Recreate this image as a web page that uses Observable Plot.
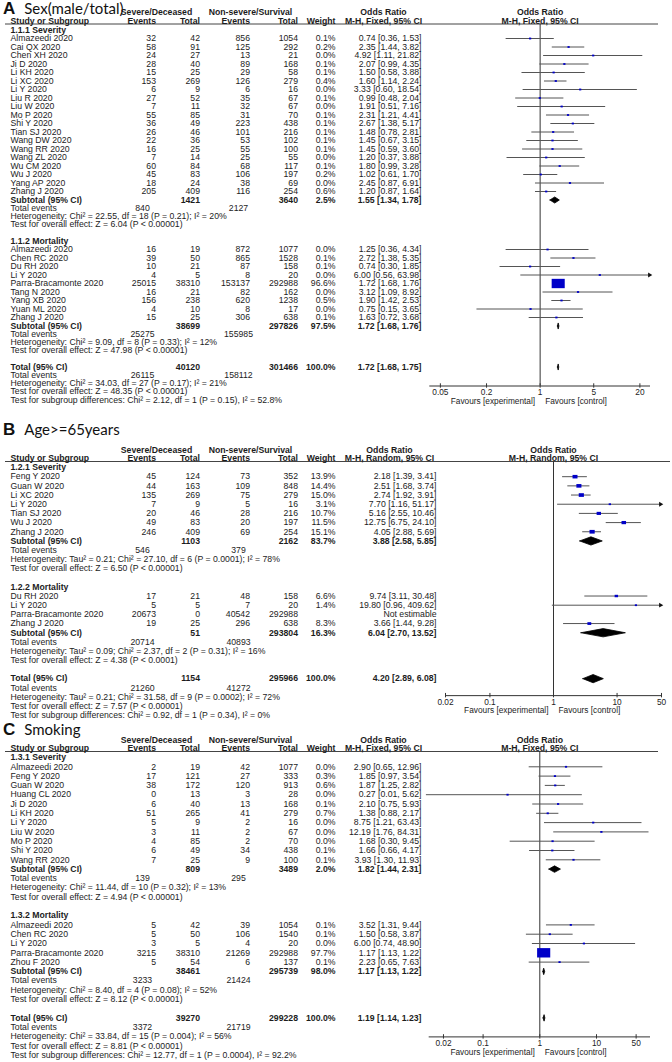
<!DOCTYPE html>
<html><head><meta charset="utf-8">
<script src="https://cdn.jsdelivr.net/npm/d3@7"></script>
<script src="https://cdn.jsdelivr.net/npm/@observablehq/plot@0.6"></script>
<style>
body{margin:0;background:#fff;}
#page{position:relative;width:672px;height:1062px;overflow:hidden;background:#fff;}
#page svg{position:absolute;left:0;}
.ttl{position:absolute;left:3px;white-space:nowrap;color:#111;z-index:2;line-height:14px;height:14px;}
.ttl b{font:bold 17px "Liberation Sans",Arial,sans-serif;}
.ttl span{font:15px Lato,"Open Sans",sans-serif;margin-left:9px;}
</style></head><body><div id="page"></div>
<script>
// ---------- DATA ----------
// study rows: [name, severe events, severe total, non-severe events, non-severe total, weight %, OR, lower, upper]
// Panel A: Sex (male/total)
const aSeverity = [
  ["Almazeedi 2020",32,42,856,1054,0.1,0.74,0.36,1.53],
  ["Cai QX 2020",58,91,125,292,0.2,2.35,1.44,3.82],
  ["Chen XH 2020",24,27,13,21,0.0,4.92,1.11,21.82],
  ["Ji D 2020",28,40,89,168,0.1,2.07,0.99,4.35],
  ["Li KH 2020",15,25,29,58,0.1,1.50,0.58,3.88],
  ["Li XC 2020",153,269,126,279,0.4,1.60,1.14,2.24],
  ["Li Y 2020",6,9,6,16,0.0,3.33,0.60,18.54],
  ["Liu R 2020",27,52,35,67,0.1,0.99,0.48,2.04],
  ["Liu W 2020",7,11,32,67,0.0,1.91,0.51,7.16],
  ["Mo P 2020",55,85,31,70,0.1,2.31,1.21,4.41],
  ["Shi Y 2020",36,49,223,438,0.1,2.67,1.38,5.17],
  ["Tian SJ 2020",26,46,101,216,0.1,1.48,0.78,2.81],
  ["Wang DW 2020",22,36,53,102,0.1,1.45,0.67,3.15],
  ["Wang RR 2020",16,25,55,100,0.1,1.45,0.59,3.60],
  ["Wang ZL 2020",7,14,25,55,0.0,1.20,0.37,3.88],
  ["Wu CM 2020",60,84,68,117,0.1,1.80,0.99,3.28],
  ["Wu J 2020",45,83,106,197,0.2,1.02,0.61,1.70],
  ["Yang AP 2020",18,24,38,69,0.0,2.45,0.87,6.91],
  ["Zhang J 2020",205,409,116,254,0.6,1.20,0.87,1.64]
];
const aSeveritySub = [1421,3640,2.5,1.55,1.34,1.78];
const aSeverityEvents = [840,2127];
const aSeverityHet = "Heterogeneity: Chi² = 22.55, df = 18 (P = 0.21); I² = 20%";
const aSeverityTest = "Test for overall effect: Z = 6.04 (P < 0.00001)";
const aMortality = [
  ["Almazeedi 2020",16,19,872,1077,0.0,1.25,0.36,4.34],
  ["Chen RC 2020",39,50,865,1528,0.1,2.72,1.38,5.35],
  ["Du RH 2020",10,21,87,158,0.1,0.74,0.30,1.85],
  ["Li Y 2020",4,5,8,20,0.0,6.00,0.56,63.98],
  ["Parra-Bracamonte 2020",25015,38310,153137,292988,96.6,1.72,1.68,1.76],
  ["Tang N 2020",16,21,82,162,0.0,3.12,1.09,8.92],
  ["Yang XB 2020",156,238,620,1238,0.5,1.90,1.42,2.53],
  ["Yuan ML 2020",4,10,8,17,0.0,0.75,0.15,3.65],
  ["Zhang J 2020",15,25,306,638,0.1,1.63,0.72,3.68]
];
const aMortalitySub = [38699,297826,97.5,1.72,1.68,1.76];
const aMortalityEvents = [25275,155985];
const aMortalityHet = "Heterogeneity: Chi² = 9.09, df = 8 (P = 0.33); I² = 12%";
const aMortalityTest = "Test for overall effect: Z = 47.98 (P < 0.00001)";
const aTotal = [40120,301466,100.0,1.72,1.68,1.75];
const aTotalEvents = [26115,158112];
const aTotalHet = "Heterogeneity: Chi² = 34.03, df = 27 (P = 0.17); I² = 21%";
const aTotalTest = "Test for overall effect: Z = 48.35 (P < 0.00001)";
const aSubgroupTest = "Test for subgroup differences: Chi² = 2.12, df = 1 (P = 0.15), I² = 52.8%";
const aTicks = [0.05,0.2,1,5,20];

// Panel B: Age >= 65 years
const bSeverity = [
  ["Feng Y 2020",45,124,73,352,13.9,2.18,1.39,3.41],
  ["Guan W 2020",44,163,109,848,14.4,2.51,1.68,3.74],
  ["Li XC 2020",135,269,75,279,15.0,2.74,1.92,3.91],
  ["Li Y 2020",7,9,5,16,3.1,7.70,1.16,51.17],
  ["Tian SJ 2020",20,46,28,216,10.7,5.16,2.55,10.46],
  ["Wu J 2020",49,83,20,197,11.5,12.75,6.75,24.10],
  ["Zhang J 2020",246,409,69,254,15.1,4.05,2.88,5.69]
];
const bSeveritySub = [1103,2162,83.7,3.88,2.58,5.85];
const bSeverityEvents = [546,379];
const bSeverityHet = "Heterogeneity: Tau² = 0.21; Chi² = 27.10, df = 6 (P = 0.0001); I² = 78%";
const bSeverityTest = "Test for overall effect: Z = 6.50 (P < 0.00001)";
const bMortality = [
  ["Du RH 2020",17,21,48,158,6.6,9.74,3.11,30.48],
  ["Li Y 2020",5,5,7,20,1.4,19.80,0.96,409.62],
  ["Parra-Bracamonte 2020",20673,0,40542,292988,null,null,null,null],
  ["Zhang J 2020",19,25,296,638,8.3,3.66,1.44,9.28]
];
const bMortalitySub = [51,293804,16.3,6.04,2.70,13.52];
const bMortalityEvents = [20714,40893];
const bMortalityHet = "Heterogeneity: Tau² = 0.09; Chi² = 2.37, df = 2 (P = 0.31); I² = 16%";
const bMortalityTest = "Test for overall effect: Z = 4.38 (P < 0.0001)";
const bTotal = [1154,295966,100.0,4.20,2.89,6.08];
const bTotalEvents = [21260,41272];
const bTotalHet = "Heterogeneity: Tau² = 0.21; Chi² = 31.58, df = 9 (P = 0.0002); I² = 72%";
const bTotalTest = "Test for overall effect: Z = 7.57 (P < 0.00001)";
const bSubgroupTest = "Test for subgroup differences: Chi² = 0.92, df = 1 (P = 0.34), I² = 0%";
const bTicks = [0.02,0.1,1,10,50];

// Panel C: Smoking
const cSeverity = [
  ["Almazeedi 2020",2,19,42,1077,0.0,2.90,0.65,12.96],
  ["Feng Y 2020",17,121,27,333,0.3,1.85,0.97,3.54],
  ["Guan W 2020",38,172,120,913,0.6,1.87,1.25,2.82],
  ["Huang CL 2020",0,13,3,28,0.0,0.27,0.01,5.62],
  ["Ji D 2020",6,40,13,168,0.1,2.10,0.75,5.93],
  ["Li KH 2020",51,265,41,279,0.7,1.38,0.88,2.17],
  ["Li Y 2020",5,9,2,16,0.0,8.75,1.21,63.43],
  ["Liu W 2020",3,11,2,67,0.0,12.19,1.76,84.31],
  ["Mo P 2020",4,85,2,70,0.0,1.68,0.30,9.45],
  ["Shi Y 2020",6,49,34,438,0.1,1.66,0.66,4.17],
  ["Wang RR 2020",7,25,9,100,0.1,3.93,1.30,11.93]
];
const cSeveritySub = [809,3489,2.0,1.82,1.44,2.31];
const cSeverityEvents = [139,295];
const cSeverityHet = "Heterogeneity: Chi² = 11.44, df = 10 (P = 0.32); I² = 13%";
const cSeverityTest = "Test for overall effect: Z = 4.94 (P < 0.00001)";
const cMortality = [
  ["Almazeedi 2020",5,42,39,1054,0.1,3.52,1.31,9.44],
  ["Chen RC 2020",5,50,106,1540,0.1,1.50,0.58,3.87],
  ["Li Y 2020",3,5,4,20,0.0,6.00,0.74,48.90],
  ["Parra-Bracamonte 2020",3215,38310,21269,292988,97.7,1.17,1.13,1.22],
  ["Zhou F 2020",5,54,6,137,0.1,2.23,0.65,7.63]
];
const cMortalitySub = [38461,295739,98.0,1.17,1.13,1.22];
const cMortalityEvents = [3233,21424];
const cMortalityHet = "Heterogeneity: Chi² = 8.40, df = 4 (P = 0.08); I² = 52%";
const cMortalityTest = "Test for overall effect: Z = 8.12 (P < 0.00001)";
const cTotal = [39270,299228,100.0,1.19,1.14,1.23];
const cTotalEvents = [3372,21719];
const cTotalHet = "Heterogeneity: Chi² = 33.84, df = 15 (P = 0.004); I² = 56%";
const cTotalTest = "Test for overall effect: Z = 8.81 (P < 0.00001)";
const cSubgroupTest = "Test for subgroup differences: Chi² = 12.77, df = 1 (P = 0.0004), I² = 92.2%";
const cTicks = [0.02,0.1,1,10,50];

// ---------- RENDER ----------
const FONT = '"Liberation Sans", Arial, Helvetica, sans-serif';
const FS = 8.7;
const TXT = "#1c1c1c";
const fmtCI = (or, lo, hi) => `${or.toFixed(2)} [${lo.toFixed(2)}, ${hi.toFixed(2)}]`;
const fmtW = w => w.toFixed(1) + "%";

// wide rectangle symbol for study weights
const rectSymbol = {
  draw(ctx, size) {
    const r = Math.sqrt(size / Math.PI);
    const w = Math.max(r, 1.1), h = Math.max(r / 1.4, 0.9);
    ctx.moveTo(-w, -h); ctx.lineTo(w, -h); ctx.lineTo(w, h); ctx.lineTo(-w, h); ctx.closePath();
  }
};

function buildPanel(P) {
  const cells = [], studies = [], diamonds = [];
  const add = (row, bold, obj) => {
    for (const k in obj) {
      const v = obj[k];
      if (v !== null && v !== undefined && v !== "") cells.push({row, col: k, text: String(v), bold});
    }
  };
  const S = P.sumStep / P.step, G = P.gapStep / P.step;
  let r = 0;
  P.groups.forEach((g, gi) => {
    if (gi > 0) r += 2 * G;
    add(r, true, {name: g.label});
    g.rows.forEach(d => {
      r += 1;
      const [name, se, st, ne, nt, w, or, lo, hi] = d;
      add(r, false, {name, se, st, ne, nt, w: w == null ? null : fmtW(w), ci: or == null ? "Not estimable" : fmtCI(or, lo, hi)});
      if (or != null) studies.push({row: r, w, or, lo, hi});
    });
    r += 1;
    const [st, nt, w, or, lo, hi] = g.sub;
    add(r, true, {name: "Subtotal (95% CI)", st, nt, w: fmtW(w), ci: fmtCI(or, lo, hi)});
    diamonds.push({row: r, or, lo, hi});
    r += S; add(r, false, {name: "Total events", te1: g.events[0], te2: g.events[1]});
    r += S; add(r, false, {name: g.het});
    r += S; add(r, false, {name: g.test});
  });
  const T = P.total;
  r += 2 * G;
  const totalRow = r;
  {
    const [st, nt, w, or, lo, hi] = T.sub;
    add(r, true, {name: "Total (95% CI)", st, nt, w: fmtW(w), ci: fmtCI(or, lo, hi)});
    diamonds.push({row: r, or, lo, hi});
  }
  r += S; add(r, false, {name: "Total events", te1: T.events[0], te2: T.events[1]});
  r += S; add(r, false, {name: T.het});
  r += S; add(r, false, {name: T.test});
  r += S; add(r, false, {name: T.sub2});

  const px = v => v / P.step; // px offset -> row units
  const hdr1 = px(-17.5), hdr2 = px(-9), lineRow = px(-6);
  add(hdr1, true, {hSev: "Severe/Deceased", hNs: "Non-severe/Survival", hOR: "Odds Ratio"});
  add(hdr2, true, {name: "Study or Subgroup", se: "Events", st: "Total", ne: "Events", nt: "Total", w: "Weight", hOR: P.method});

  const cols = {
    name: [10, "start"], se: [155.5, "end"], st: [199.5, "end"], ne: [249.5, "end"], nt: [297.5, "end"],
    w: [335, "end"], ci: [P.ciX, "end"], te1: [142, "middle"], te2: [238, "middle"],
    hSev: [156, "middle"], hNs: [250, "middle"], hOR: [P.orHdrX, "middle"]
  };
  const axisRow = totalRow + px(P.axisGap);
  const xmax = P.xDomain[1];

  const marks = [];
  // header rule
  marks.push(Plot.ruleY([lineRow], {y: d => d, insetLeft: 5, insetRight: 672 - P.lineRight, stroke: "#444", strokeWidth: 1}));
  // table text
  for (const col in cols) {
    for (const bold of [false, true]) {
      const data = cells.filter(c => c.col === col && c.bold === bold);
      if (!data.length) continue;
      marks.push(Plot.text(data, {
        y: "row", text: "text", frameAnchor: "left", dx: cols[col][0], textAnchor: cols[col][1],
        fontSize: FS, fontFamily: FONT, fontWeight: bold ? "bold" : "normal", fill: TXT
      }));
    }
  }
  // forest headers
  marks.push(Plot.text([{x: 1, row: hdr1, t: "Odds Ratio"}, {x: 1, row: hdr2, t: P.method}], {
    x: "x", y: "row", text: "t", fontSize: FS, fontFamily: FONT, fontWeight: "bold", fill: TXT
  }));
  // null line
  marks.push(Plot.ruleX([1], {x: d => d, y1: lineRow, y2: axisRow, stroke: "#333", strokeWidth: 1}));
  // CI lines
  marks.push(Plot.ruleY(studies, {y: "row", x1: "lo", x2: d => Math.min(d.hi, xmax), stroke: "#555", strokeWidth: 1}));
  // arrows for CIs beyond the axis
  marks.push(Plot.dot(studies.filter(d => d.hi > xmax), {x: () => xmax, y: "row", symbol: "triangle2", rotate: 90, r: 2.3, fill: "#111", stroke: "none", dx: -1}));
  // weight squares
  marks.push(Plot.dot(studies, {x: "or", y: "row", r: "w", symbol: rectSymbol, fill: "#0000c8", stroke: "none"}));
  // diamonds
  const dpts = [];
  diamonds.forEach((d, i) => {
    const h = P.dHalf;
    dpts.push({id: i, x: d.lo, y: d.row}, {id: i, x: d.or, y: d.row - h}, {id: i, x: d.hi, y: d.row}, {id: i, x: d.or, y: d.row + h}, {id: i, x: d.lo, y: d.row});
  });
  marks.push(Plot.line(dpts, {x: "x", y: "y", z: "id", fill: "#000", stroke: "#000", strokeWidth: 0.8, curve: "linear"}));
  // axis: line, ticks, labels
  marks.push(Plot.ruleY([axisRow], {y: d => d, x1: () => P.xDomain[0], x2: () => P.xDomain[1], stroke: "#333", strokeWidth: 1}));
  marks.push(Plot.ruleX(P.ticks, {x: d => d, y1: axisRow - px(2.2), y2: axisRow + px(2.2), stroke: "#333", strokeWidth: 1}));
  marks.push(Plot.text(P.ticks, {x: d => d, y: () => axisRow + px(6.8), text: d => String(d), fontSize: 8.3, fontFamily: FONT, fill: TXT}));
  marks.push(Plot.text([{x: 1, t: "Favours [experimental]"}], {x: "x", y: () => axisRow + px(15.2), text: "t", textAnchor: "end", dx: -5, fontSize: 8.3, fontFamily: FONT, fill: TXT}));
  marks.push(Plot.text([{x: 1, t: "Favours [control]"}], {x: "x", y: () => axisRow + px(15.2), text: "t", textAnchor: "start", dx: 5, fontSize: 8.3, fontFamily: FONT, fill: TXT}));

  const svg = Plot.plot({
    width: 672, height: P.height,
    marginTop: 0, marginLeft: 0, marginRight: 0, marginBottom: 0,
    x: {type: "log", domain: P.xDomain, range: P.xRange, axis: null},
    y: {type: "linear", domain: [0, 1], range: [P.row0, P.row0 + P.step], axis: null},
    r: {type: "sqrt", domain: [0, 100], range: [0.01, 6.65]},
    style: {background: "transparent", fontFamily: FONT, color: TXT},
    marks
  });
  svg.style.top = P.top + "px";
  return svg;
}

const page = document.getElementById("page");
const panels = [
  {top: 0, height: 418, row0: 29.5, step: 8.5, sumStep: 8.2, gapStep: 8.2, axisGap: 19, dHalf: 0.36,
   xDomain: [0.0364, 27.5], xRange: [429.3, 650], ticks: aTicks, method: "M-H, Fixed, 95% CI",
   ciX: 421, orHdrX: 383, lineRight: 658,
   groups: [
     {label: "1.1.1 Severity", rows: aSeverity, sub: aSeveritySub, events: aSeverityEvents, het: aSeverityHet, test: aSeverityTest},
     {label: "1.1.2 Mortality", rows: aMortality, sub: aMortalitySub, events: aMortalityEvents, het: aMortalityHet, test: aMortalityTest}],
   total: {sub: aTotal, events: aTotalEvents, het: aTotalHet, test: aTotalTest, sub2: aSubgroupTest}},
  {top: 418, height: 302, row0: 49, step: 9.18, sumStep: 9.18, gapStep: 9.18, axisGap: 17, dHalf: 0.45,
   xDomain: [0.02, 50], xRange: [445, 661], ticks: bTicks, method: "M-H, Random, 95% CI",
   ciX: 436, orHdrX: 389, lineRight: 670,
   groups: [
     {label: "1.2.1 Severity", rows: bSeverity, sub: bSeveritySub, events: bSeverityEvents, het: bSeverityHet, test: bSeverityTest},
     {label: "1.2.2 Mortality", rows: bMortality, sub: bMortalitySub, events: bMortalityEvents, het: bMortalityHet, test: bMortalityTest}],
   total: {sub: bTotal, events: bTotalEvents, het: bTotalHet, test: bTotalTest, sub2: bSubgroupTest}},
  {top: 720, height: 342, row0: 37, step: 9.3, sumStep: 9.3, gapStep: 9.3, axisGap: 19, dHalf: 0.35,
   xDomain: [0.0112, 89.6], xRange: [428.7, 650], ticks: cTicks, method: "M-H, Fixed, 95% CI",
   ciX: 421, orHdrX: 383, lineRight: 658,
   groups: [
     {label: "1.3.1 Severity", rows: cSeverity, sub: cSeveritySub, events: cSeverityEvents, het: cSeverityHet, test: cSeverityTest},
     {label: "1.3.2 Mortality", rows: cMortality, sub: cMortalitySub, events: cMortalityEvents, het: cMortalityHet, test: cMortalityTest}],
   total: {sub: cTotal, events: cTotalEvents, het: cTotalHet, test: cTotalTest, sub2: cSubgroupTest}}
];
panels.forEach(P => page.appendChild(buildPanel(P)));

const titles = [["A", "Sex(male/total)", -1], ["B", "Age>=65years", 420], ["C", "Smoking", 720]];
titles.forEach(([letter, name, top]) => {
  const d = document.createElement("div");
  d.className = "ttl";
  d.style.top = top + "px";
  d.innerHTML = `<b></b><span></span>`;
  d.querySelector("b").textContent = letter;
  d.querySelector("span").textContent = name;
  page.appendChild(d);
});
</script></body></html>
